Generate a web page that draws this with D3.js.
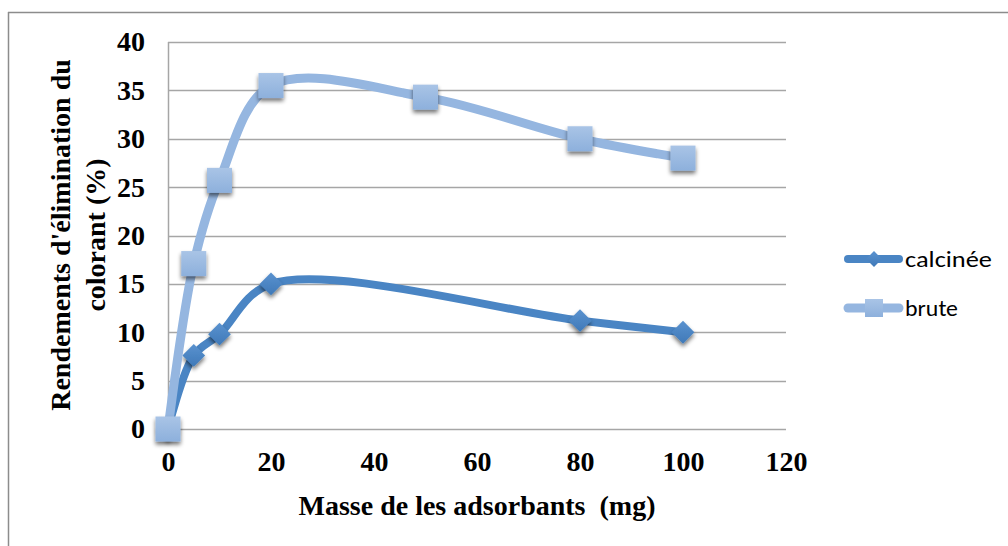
<!DOCTYPE html>
<html>
<head>
<meta charset="utf-8">
<script src="https://cdn.jsdelivr.net/npm/d3@7"></script>
<style>
  html, body { margin: 0; padding: 0; background: #fff; }
  svg { display: block; }
</style>
</head>
<body>
<svg id="chart" width="1008" height="546"></svg>
<script>
// Adsorbent mass (mg) and dye removal yield (%)
const massBrute = [0, 5, 10, 20, 50, 80, 100];
const yieldBrute = [0, 17.1, 25.7, 35.5, 34.3, 30.0, 28.0];
const massCalcinee = [0, 5, 10, 20, 80, 100];
const yieldCalcinee = [0, 7.6, 9.8, 15.0, 11.2, 10.0];
const xTicks = [0, 20, 40, 60, 80, 100, 120];
const yTicks = [0, 5, 10, 15, 20, 25, 30, 35, 40];
const seriesNames = ["calcinée", "brute"];

const svg = d3.select("#chart");
const W = 1008, H = 546;
const plot = { left: 168, right: 786, top: 42, bottom: 429 };

const x = d3.scaleLinear().domain([0, 120]).range([plot.left, plot.right]);
const y = d3.scaleLinear().domain([0, 40]).range([plot.bottom, plot.top]);

const defs = svg.append("defs");
const shadow = defs.append("filter").attr("id", "shadow")
  .attr("x", "-50%").attr("y", "-50%").attr("width", "200%").attr("height", "200%");
shadow.append("feGaussianBlur").attr("in", "SourceAlpha").attr("stdDeviation", 2.2).attr("result", "b");
shadow.append("feOffset").attr("in", "b").attr("dx", 0).attr("dy", 3).attr("result", "o");
shadow.append("feComponentTransfer").attr("in", "o").attr("result", "s")
  .append("feFuncA").attr("type", "linear").attr("slope", 0.55);
const merge = shadow.append("feMerge");
merge.append("feMergeNode").attr("in", "s");
merge.append("feMergeNode").attr("in", "SourceGraphic");

function grad(id, c1, c2) {
  const g = defs.append("linearGradient").attr("id", id)
    .attr("x1", 0).attr("y1", 0).attr("x2", 0).attr("y2", 1);
  g.append("stop").attr("offset", "0%").attr("stop-color", c1);
  g.append("stop").attr("offset", "100%").attr("stop-color", c2);
}
grad("gBrute", "#a9c4e6", "#8db0dc");
grad("gCalc", "#5a92cf", "#3f79b8");

// Outer frame (top and left edges visible)
svg.append("line").attr("x1", 8).attr("x2", W).attr("y1", 12.5).attr("y2", 12.5)
  .attr("stroke", "#8c8c8c").attr("stroke-width", 1.5);
svg.append("line").attr("x1", 8.5).attr("x2", 8.5).attr("y1", 12).attr("y2", H)
  .attr("stroke", "#8c8c8c").attr("stroke-width", 1.5);

// Horizontal gridlines
svg.append("g").selectAll("line").data(yTicks).join("line")
  .attr("x1", plot.left).attr("x2", plot.right)
  .attr("y1", d => Math.round(y(d)) + 0.5).attr("y2", d => Math.round(y(d)) + 0.5)
  .attr("stroke", "#a6a6a6").attr("stroke-width", 1.5);

// Vertical axis line
svg.append("line").attr("x1", plot.left + 0.5).attr("x2", plot.left + 0.5)
  .attr("y1", plot.top).attr("y2", plot.bottom)
  .attr("stroke", "#a6a6a6").attr("stroke-width", 1.5);

// Tick labels through d3 axes
const serif = "'Liberation Serif', 'Times New Roman', serif";
const yAxis = svg.append("g").attr("transform", `translate(${plot.left},0)`)
  .call(d3.axisLeft(y).tickValues(yTicks).tickSize(0).tickPadding(23));
const xAxis = svg.append("g").attr("transform", `translate(0,${plot.bottom})`)
  .call(d3.axisBottom(x).tickValues(xTicks).tickSize(0).tickPadding(22));
[yAxis, xAxis].forEach(a => {
  a.select(".domain").remove();
  a.attr("font-size", null).attr("font-family", null);
  a.selectAll("text").style("font-family", serif).style("font-weight", "bold")
    .style("font-size", "28px").attr("fill", "#000");
});

// Axis titles
svg.append("text")
  .attr("x", x(60)).attr("y", 515)
  .attr("text-anchor", "middle").style("font-family", serif).style("font-weight", "bold")
  .style("font-size", "28px").style("white-space", "pre")
  .text("Masse de les adsorbants  (mg)");
const yt = svg.append("text")
  .attr("transform", `translate(70,235) rotate(-90)`)
  .attr("text-anchor", "middle").style("font-family", serif).style("font-weight", "bold")
  .style("font-size", "28px");
yt.append("tspan").attr("x", 0).attr("dy", 0).text("Rendements d'élimination du");
yt.append("tspan").attr("x", 0).attr("dy", 35).text("colorant (%)");

// Smoothed series lines
const line = d3.line().x(d => x(d[0])).y(d => y(d[1])).curve(d3.curveCatmullRom.alpha(0.5));
const brute = d3.zip(massBrute, yieldBrute);
const calc = d3.zip(massCalcinee, yieldCalcinee);

const colBrute = "#95b6e0", colCalc = "#4a85c4";

svg.append("path").datum(calc).attr("d", line)
  .attr("fill", "none").attr("stroke", colCalc).attr("stroke-width", 8)
  .attr("stroke-linecap", "round").attr("stroke-linejoin", "round");
svg.append("g").attr("filter", "url(#shadow)").selectAll("path").data(calc).join("path")
  .attr("d", d3.symbol().type(d3.symbolDiamond2).size(330))
  .attr("transform", d => `translate(${x(d[0])},${y(d[1])})`)
  .attr("fill", "url(#gCalc)");

svg.append("path").datum(brute).attr("d", line)
  .attr("fill", "none").attr("stroke", colBrute).attr("stroke-width", 9)
  .attr("stroke-linecap", "round").attr("stroke-linejoin", "round");
svg.append("g").attr("filter", "url(#shadow)").selectAll("rect").data(brute).join("rect")
  .attr("x", d => x(d[0]) - 12.5).attr("y", d => y(d[1]) - 12.5)
  .attr("width", 25).attr("height", 25)
  .attr("fill", "url(#gBrute)");

// Legend
const legend = svg.append("g");
const legendRows = [
  { name: seriesNames[0], color: colCalc, w: 8, marker: "diamond", fill: "url(#gCalc)", y: 259, len: 87 },
  { name: seriesNames[1], color: colBrute, w: 9, marker: "square", fill: "url(#gBrute)", y: 308, len: 53 }
];
legendRows.forEach(r => {
  legend.append("line").attr("x1", 848).attr("x2", 899).attr("y1", r.y).attr("y2", r.y)
    .attr("stroke", r.color).attr("stroke-width", r.w).attr("stroke-linecap", "round");
  if (r.marker === "diamond") {
    legend.append("path").attr("d", d3.symbol().type(d3.symbolDiamond2).size(160))
      .attr("transform", `translate(874,${r.y})`).attr("fill", r.fill);
  } else {
    legend.append("rect").attr("x", 865).attr("y", r.y - 9).attr("width", 18).attr("height", 18)
      .attr("fill", r.fill);
  }
  legend.append("text").attr("x", 905).attr("y", r.y + 8)
    .attr("textLength", r.len).attr("lengthAdjust", "spacingAndGlyphs")
    .style("font-family", "Carlito, Calibri, 'Open Sans', sans-serif").style("font-size", "23px")
    .attr("fill", "#000").text(r.name);
});
</script>
</body>
</html>
